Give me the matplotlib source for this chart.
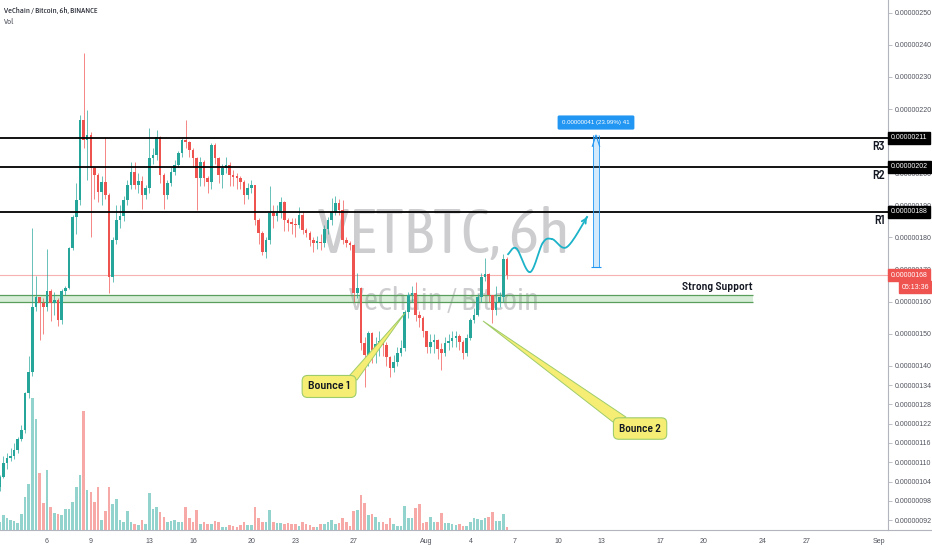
import numpy as np
import matplotlib
matplotlib.use('Agg')
import matplotlib.pyplot as plt
from matplotlib.patches import Rectangle, Polygon
from matplotlib.lines import Line2D

# VETBTC 6h candles, prices in 1e-8 BTC, days counted as day-of-July (Aug 1 = 32)
first_day = 2.75
bar_days = 0.25
first_open = 102.3

closes = [
    105.4, 109.7, 111.3, 112.0, 113.8, 117.2, 120.0, 131.5, 138.0, 158.3,
    161.5, 159.5, 158.3, 163.3, 159.6, 160.5, 154.3, 163.3, 164.3, 176.7,
    186.4, 191.7, 216.6, 210.4, 212.0, 201.6, 199.5, 194.2, 197.3, 193.2,
    167.7, 179.2, 185.4, 186.8, 191.7, 196.4, 200.4, 196.4, 197.5, 193.2,
    195.4, 204.7, 205.6, 211.3, 199.5, 193.2, 196.9, 200.4, 202.6, 206.3,
    210.4, 209.6, 207.2, 204.7, 198.5, 203.5, 198.5, 197.3, 208.8, 204.7,
    199.5, 201.6, 202.6, 199.5, 198.8, 198.5, 197.3, 193.2, 195.4, 196.4,
    185.4, 181.4, 175.5, 179.2, 187.6, 186.8, 187.6, 191.0, 185.4, 184.5,
    184.3, 183.8, 187.0, 182.3, 181.4, 179.2, 178.3, 178.6, 178.2, 182.6,
    185.4, 188.0, 190.7, 188.6, 179.2, 178.3, 177.6, 162.7, 164.3, 147.1,
    143.4, 150.2, 144.9, 146.8, 147.8, 146.5, 142.7, 139.3, 141.2, 144.0,
    145.5, 156.8, 162.1, 162.7, 155.9, 155.0, 151.0, 145.9, 147.3, 148.0,
    145.2, 144.0, 147.0, 147.8, 148.6, 149.2, 147.4, 144.0, 148.6, 154.3,
    156.0, 161.4, 167.7, 168.5, 162.0, 157.4, 160.0, 161.5, 173.4, 168.3,
]
highs = [
    106.0, 112.0, 113.0, 114.5, 116.0, 118.0, 121.5, 132.0, 143.0, 183.0,
    168.0, 161.5, 161.0, 176.5, 164.0, 163.0, 161.0, 164.0, 165.0, 177.0,
    187.0, 197.0, 218.0, 237.5, 219.7, 213.0, 202.0, 200.0, 199.0, 211.3,
    194.0, 180.0, 190.0, 190.0, 193.0, 198.0, 203.5, 203.5, 200.0, 199.0,
    196.5, 214.0, 208.0, 213.5, 211.5, 200.0, 198.0, 202.0, 204.0, 207.0,
    211.0, 216.6, 210.0, 208.0, 205.0, 205.0, 204.0, 199.0, 209.5, 209.5,
    205.0, 203.0, 205.0, 203.5, 201.0, 200.0, 199.0, 198.0, 197.0, 198.0,
    196.5, 186.0, 182.0, 180.0, 196.0, 190.0, 190.0, 192.5, 191.5, 186.0,
    186.0, 186.0, 189.5, 188.0, 183.0, 182.0, 180.0, 180.5, 181.0, 184.0,
    186.5, 192.3, 193.0, 192.0, 191.7, 180.0, 179.0, 178.0, 169.0, 164.5,
    149.0, 151.0, 150.5, 149.0, 150.8, 149.0, 147.5, 143.0, 143.5, 146.0,
    148.0, 157.5, 163.0, 165.0, 166.0, 157.0, 155.5, 151.0, 150.0, 150.0,
    148.5, 147.0, 149.0, 150.0, 151.0, 151.0, 150.0, 148.0, 150.0, 155.0,
    158.0, 162.5, 169.0, 173.6, 169.0, 162.0, 165.0, 163.0, 175.0, 174.0,
]
lows = [
    101.0, 105.0, 108.0, 110.5, 111.0, 113.0, 116.5, 119.0, 130.0, 137.0,
    157.0, 148.0, 150.0, 157.0, 154.0, 156.0, 152.5, 153.0, 162.0, 164.0,
    176.0, 181.0, 190.0, 208.0, 197.9, 180.0, 192.0, 191.0, 190.0, 192.0,
    162.7, 166.0, 178.0, 183.0, 185.0, 190.0, 195.0, 195.0, 194.0, 189.0,
    192.0, 194.0, 203.0, 204.0, 197.0, 189.0, 192.0, 196.0, 199.5, 202.0,
    205.0, 208.0, 205.0, 202.0, 188.6, 196.0, 196.0, 194.0, 195.0, 203.0,
    197.0, 195.5, 200.0, 196.0, 196.0, 195.0, 195.0, 190.5, 192.0, 194.0,
    184.0, 178.0, 174.5, 173.6, 178.0, 183.0, 185.0, 186.0, 182.0, 182.0,
    181.0, 180.0, 183.0, 181.0, 180.0, 177.5, 175.5, 176.5, 176.0, 177.0,
    181.0, 184.0, 187.0, 187.0, 178.0, 177.0, 176.0, 160.0, 161.0, 145.0,
    133.4, 140.0, 141.0, 141.0, 143.0, 143.0, 140.0, 136.5, 138.0, 140.0,
    143.0, 144.5, 155.0, 160.0, 154.0, 152.0, 149.0, 144.0, 144.0, 144.0,
    142.0, 138.7, 143.0, 145.0, 146.0, 146.0, 145.0, 142.0, 143.0, 148.0,
    153.5, 155.5, 160.0, 166.5, 160.0, 153.4, 156.0, 158.5, 160.0, 167.0,
]
volumes = [
    8, 15, 12, 10, 9, 7, 16, 33, 46, 132,
    111, 57, 27, 60, 23, 17, 16, 15, 21, 21,
    28, 43, 55, 119, 40, 38, 28, 43, 10, 19,
    43, 26, 31, 10, 8, 19, 8, 6, 5, 10,
    6, 37, 21, 23, 18, 13, 8, 9, 10, 8,
    8, 23, 12, 8, 20, 6, 8, 6, 6, 9,
    8, 3, 3, 5, 4, 3, 5, 8, 5, 5,
    23, 12, 8, 8, 20, 8, 7, 7, 6, 7,
    6, 6, 4, 8, 6, 5, 3, 3, 6, 6,
    8, 10, 6, 7, 12, 8, 4, 19, 20, 35,
    27, 15, 16, 13, 8, 8, 6, 12, 6, 4,
    4, 24, 12, 12, 22, 26, 7, 8, 13, 8,
    8, 17, 7, 7, 6, 5, 6, 4, 4, 8,
    12, 11, 10, 12, 13, 18, 9, 9, 16, 3,
]

# drawings on the chart
levels = [188, 202, 211]
level_names = ['R1', 'R2', 'R3']
support_low, support_high = 159.9, 162.1
support_end = 54.35
measure_day = 43.6
measure_low, measure_high = 170.9, 211.9
path_days = [37.58, 38.15, 39.08, 39.95, 40.6, 41.6, 42.99]
path_prices = [174.8, 176.6, 169.2, 178.3, 179.5, 177.0, 186.4]
bounce1_box, bounce1_tip = (25.32, 133.6), (30.52, 156.5)
bounce1_base = [(26.68, 136.8), (27.23, 135.6)]
bounce2_box, bounce2_tip = (46.62, 120.5), (35.86, 154.0)
bounce2_base = [(44.77, 122.5), (45.66, 124.05)]

day_ticks = [6, 9, 13, 16, 20, 23, 27, 32, 35, 38, 41, 44, 48, 51, 55, 58, 63]
day_labels = ['6', '9', '13', '16', '20', '23', '27', 'Aug', '4', '7', '10',
              '13', '17', '20', '24', '27', 'Sep']
# 0.00000210 sits under the R3 price tag and is not shown
price_ticks = [250, 240, 230, 220, 200, 190, 180, 170, 160, 150, 140,
               134, 128, 122, 116, 110, 104, 98, 92]

UP, DOWN = '#26a69a', '#ef5350'
CYAN = '#1cb3c8'
INK = '#131722'
COND = ['Asap Condensed', 'Archivo Narrow', 'Liberation Sans Narrow', 'DejaVu Sans']
SEMI = ['Barlow Semi Condensed', 'Asap Condensed', 'DejaVu Sans']

plt.rcParams['font.family'] = ['Liberation Sans', 'DejaVu Sans']

n = len(closes)
days = first_day + bar_days * np.arange(n)
opens = np.array([first_open] + closes[:-1])
closes = np.array(closes)
up = closes >= opens
colors = np.where(up, UP, DOWN)

fig = plt.figure(figsize=(9.32, 5.5), dpi=100)
renderer = fig.canvas.get_renderer()


def fit(txt, width_px):
    # scale the font so the text covers the width it has in the screenshot
    w = txt.get_window_extent(renderer).width
    txt.set_fontsize(txt.get_fontsize() * width_px / w)
    return txt.get_fontsize()


rect = [0, 20 / 550, 888 / 932, 530 / 550]
xlim = (2.78, 63.6)
ylim = (88.9, 253.96)

# volume pane underneath
axv = fig.add_axes(rect)
axv.bar(days, volumes, width=0.18, color=np.where(up, '#92d3cd', '#f7a9a8'))
axv.set_xlim(xlim)
axv.set_ylim(0, max(volumes) * 4.0)
axv.axis('off')
wm1 = axv.text(0.5, 0.555, 'VETBTC, 6h', transform=axv.transAxes, ha='center', va='center',
               fontsize=44, color='#cdcdd0', family=COND)
wm2 = axv.text(0.5, 0.432, 'VeChain / Bitcoin', transform=axv.transAxes, ha='center',
               va='center', fontsize=22, color='#cdcdd0', family=COND)
fit(wm1, 252)
fit(wm2, 190)

ax = fig.add_axes(rect)
ax.patch.set_alpha(0)
ax.set_xlim(xlim)
ax.set_ylim(ylim)

# candles
ax.vlines(days, lows, highs, colors=colors, lw=0.7, alpha=0.7, zorder=3)
body = np.maximum(np.abs(closes - opens), 0.5)
ax.bar(days, body, bottom=np.minimum(opens, closes), width=0.18, color=colors, zorder=4)

# support zone
ax.add_patch(Rectangle((xlim[0] - 1, support_low), support_end - xlim[0] + 1,
                       support_high - support_low, fc='#4caf50', alpha=0.22, ec='none', zorder=2))
ax.hlines([support_low, support_high], xlim[0] - 1, support_end, color='#5a9e5c', lw=0.9, zorder=2)
ss = ax.text(support_end - 0.05, support_high + 0.9, 'Strong Support', ha='right', va='bottom',
             fontsize=8.5, fontweight='semibold', color=INK, zorder=6, family=SEMI)
fit(ss, 71)

# resistance lines
r_size = None
for lv, name in reversed(list(zip(levels, level_names))):
    ax.axhline(lv, color='black', lw=1.3, zorder=5)
    r = ax.text(xlim[1] - 0.2, lv - 0.9, name, ha='right', va='top', fontsize=8.5,
                fontweight='semibold', color=INK, family=SEMI)
    if r_size is None:
        r_size = fit(r, 12.5)
    r.set_fontsize(r_size)
ax.axhline(closes[-1], color=DOWN, lw=0.8, alpha=0.45, zorder=1)

# price range measure
ax.add_patch(Rectangle((measure_day - 0.2, measure_low), 0.4, measure_high - measure_low,
                       fc='#2196f3', alpha=0.2, ec='none', zorder=5))
ax.vlines([measure_day - 0.2, measure_day + 0.2], measure_low, measure_high,
          color='#2196f3', lw=0.6, zorder=5)
ax.hlines(measure_low, measure_day - 0.35, measure_day + 0.35, color='#2196f3', lw=0.8, zorder=5)
ax.plot([measure_day - 0.25, measure_day, measure_day + 0.25],
        [measure_high - 3.5, measure_high, measure_high - 3.5], color='#2196f3', lw=0.8, zorder=5)
diff = measure_high - measure_low
ax.text(measure_day, measure_high + 3.9,
        f'{diff * 1e-8:.8f} ({diff / measure_low * 100:.2f}%) 41',
        ha='center', va='center', fontsize=4.4, color='white', zorder=7,
        bbox=dict(boxstyle='round,pad=0.75,rounding_size=0.25', fc='#2196f3', ec='none'))

# projected path
pts = np.column_stack([path_days, path_prices])
pts = np.vstack([pts[0], pts, pts[-1]])
t = np.linspace(0, 1, 25)[:, None]
seg = []
for i in range(1, len(pts) - 2):
    p0, p1, p2, p3 = pts[i - 1:i + 3]
    seg.append(0.5 * (2 * p1 + (-p0 + p2) * t + (2 * p0 - 5 * p1 + 4 * p2 - p3) * t ** 2
                      + (-p0 + 3 * p1 - 3 * p2 + p3) * t ** 3))
curve = np.vstack(seg)
ax.plot(curve[:, 0], curve[:, 1], color=CYAN, lw=1.3, zorder=6)
ax.annotate('', xy=curve[-1], xytext=curve[-4],
            arrowprops=dict(arrowstyle='->', color=CYAN, lw=1.3, mutation_scale=8), zorder=6)

# callouts
for box, tip, base, label in [(bounce1_box, bounce1_tip, bounce1_base, 'Bounce 1'),
                              (bounce2_box, bounce2_tip, bounce2_base, 'Bounce 2')]:
    ax.add_patch(Polygon([base[0], tip, base[1]], closed=True, fc='#f6ee74', ec='#9fcc6b',
                         lw=0.7, zorder=7))
    b = ax.text(box[0], box[1], label, ha='center', va='center', fontsize=8.5,
                fontweight='semibold', color=INK, zorder=8, family=SEMI,
                bbox=dict(boxstyle='round,pad=0.5,rounding_size=0.45', fc='#f6ee74',
                          ec='#9fcc6b', lw=0.8))
    fit(b, 42)

# axes styling
for s in ['top', 'left']:
    ax.spines[s].set_visible(False)
for s in ['right', 'bottom']:
    ax.spines[s].set_color('#b2b5be')
    ax.spines[s].set_linewidth(0.8)
ax.yaxis.tick_right()
ax.set_yticks(price_ticks)
ax.set_yticklabels([f'{v * 1e-8:.8f}' for v in price_ticks])
ax.tick_params(axis='y', length=3, width=0.6, color='#b2b5be', labelsize=5,
               labelcolor='#50535e', pad=2)
ax.set_xticks(day_ticks)
ax.set_xticklabels(day_labels)
ax.tick_params(axis='x', length=0, labelsize=5, labelcolor='#50535e', pad=6)
fig.add_artist(Line2D([888 / 932, 1], [20 / 550, 20 / 550], color='#b2b5be', lw=0.8))

# labels on the price scale
ytr = ax.get_yaxis_transform()
for lv in levels:
    ax.text(1.003, lv, f'{lv * 1e-8:.8f}', transform=ytr, ha='left', va='center', fontsize=5,
            color='white', zorder=9, clip_on=False,
            bbox=dict(boxstyle='square,pad=0.4', fc='black', ec='black'))
ax.text(1.003, closes[-1], f'{closes[-1] * 1e-8:.8f}', transform=ytr, ha='left', va='center',
        fontsize=5, color='white', zorder=9, clip_on=False,
        bbox=dict(boxstyle='square,pad=0.4', fc=DOWN, ec=DOWN))
ax.annotate('05:13:36', xy=(1.046, closes[-1]), xycoords=ytr, xytext=(0, -12),
            textcoords='offset pixels', ha='right', va='center', fontsize=5, color='white',
            zorder=9, annotation_clip=False,
            bbox=dict(boxstyle='square,pad=0.3', fc=DOWN, ec=DOWN))

ttl = fig.text(4 / 932, 1 - 10.7 / 550, 'VeChain / Bitcoin, 6h, BINANCE', fontsize=5.5,
               color=INK, va='center', family=COND)
fit(ttl, 93)
fig.text(4 / 932, 1 - 21.7 / 550, 'Vol', fontsize=ttl.get_fontsize(), color='#50535e',
         va='center', family=COND)

fig.savefig('out.png', dpi=100)
